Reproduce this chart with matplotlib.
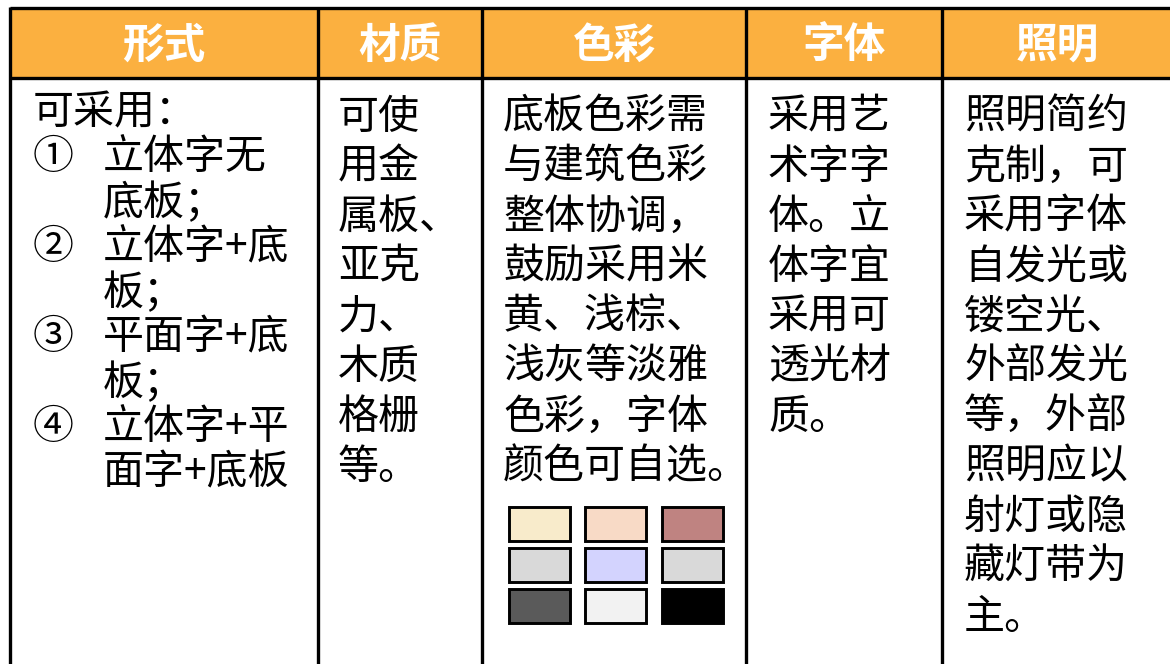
import matplotlib
matplotlib.use("Agg")
import matplotlib.pyplot as plt
from matplotlib.patches import Rectangle

plt.rcParams['font.family'] = ['Noto Sans CJK SC', 'DejaVu Sans']

headers = ["形式", "材质", "色彩", "字体", "照明"]

col1_intro = "可采用："
col1_marks = ["①", "", "②", "", "③", "", "④", ""]
col1_lines = ["立体字无", "底板；", "立体字+底", "板；", "平面字+底", "板；", "立体字+平", "面字+底板"]
col2_lines = ["可使", "用金", "属板、", "亚克", "力、", "木质", "格栅", "等。"]
col3_lines = ["底板色彩需", "与建筑色彩", "整体协调，", "鼓励采用米", "黄、浅棕、", "浅灰等淡雅", "色彩，字体", "颜色可自选。"]
col4_lines = ["采用艺", "术字字", "体。立", "体字宜", "采用可", "透光材", "质。"]
col5_lines = ["照明简约", "克制，可", "采用字体", "自发光或", "镂空光、", "外部发光", "等，外部", "照明应以", "射灯或隐", "藏灯带为", "主。"]

swatch_colors = [
    ["#F8EBCB", "#F8DAC6", "#BF8381"],
    ["#D9D9D9", "#D3D3FE", "#D9D9D9"],
    ["#5A5A5A", "#F2F2F2", "#000000"],
]

header_color = "#FBB040"

W, H = 1170, 664
fig = plt.figure(figsize=(W / 100, H / 100), dpi=100)
ax = fig.add_axes([0, 0, 1, 1])
ax.set_xlim(0, W)
ax.set_ylim(H, 0)
ax.axis('off')

# layout
col_edges = [9.5, 318, 482, 746, 942, 1180]
top, head_bot, bottom = 8, 78, 700
lw = 2.4

ax.add_patch(Rectangle((col_edges[0], top), col_edges[-1] - col_edges[0], head_bot - top,
                       facecolor=header_color, edgecolor='none', zorder=1))
for x in col_edges:
    ax.plot([x, x], [top - 1.5, bottom], color='black', lw=lw, zorder=3, solid_capstyle='butt')
for y in (top, head_bot):
    ax.plot([col_edges[0], col_edges[-1]], [y, y], color='black', lw=lw, zorder=3, solid_capstyle='butt')

fs = 29.5
for i, h in enumerate(headers):
    cx = (col_edges[i] + col_edges[i + 1]) / 2 if i < 4 else 1057
    ax.text(cx, 46, h, ha='center', va='center', fontsize=30, fontweight='bold', color='white', zorder=4)

# column 1
ax.text(33, 113, col1_intro, ha='left', va='center', fontsize=fs, zorder=4)
for k, (m, t) in enumerate(zip(col1_marks, col1_lines)):
    y = 113 + 45 * (k + 1)
    if m:
        ax.text(33, y, m, ha='left', va='center', fontsize=fs, zorder=4)
    ax.text(103, y, t, ha='left', va='center', fontsize=fs, zorder=4)

def col(lines, x, y0=117, step=50):
    for k, t in enumerate(lines):
        ax.text(x, y0 + step * k, t, ha='left', va='center', fontsize=fs, zorder=4)

col(col2_lines, 338)
col(col3_lines, 503)
col(col4_lines, 768)
col(col5_lines, 964)

# swatches
sx = [508.5, 585, 661.5]
sy = [506.5, 547.5, 588.5]
sw, sh = 61, 34.5
for r, row in enumerate(swatch_colors):
    for c, color in enumerate(row):
        ax.add_patch(Rectangle((sx[c], sy[r]), sw, sh, facecolor=color,
                               edgecolor='black', lw=2.1, zorder=4))

fig.savefig("out.png", dpi=100)
